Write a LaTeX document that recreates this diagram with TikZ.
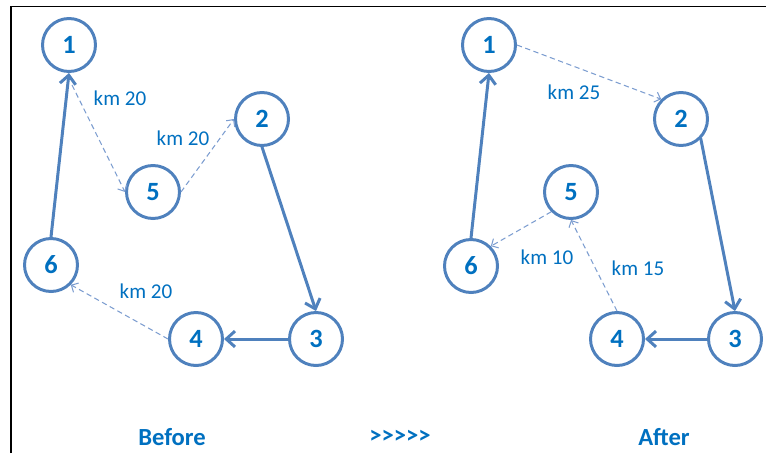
\documentclass[tikz,border=0pt]{standalone}
\usepackage{fontspec}
\setmainfont{Carlito}
\usetikzlibrary{arrows.meta}
\definecolor{ring}{HTML}{4F81BD}
\definecolor{ink}{HTML}{0070C0}
\definecolor{dimline}{HTML}{7C9DD0}

\begin{document}
\begin{tikzpicture}[
    x=0.02cm, y=-0.02cm,
    town/.style={circle, draw=ring, line width=1.7pt, minimum size=1.06cm, inner sep=0pt,
        text=ink, font=\fontsize{15}{18}\selectfont\bfseries},
    road/.style={draw=ring, line width=1.7pt, line cap=round,
        -{Straight Barb[length=5pt, width=9pt]}},
    detour/.style={draw=dimline, line width=0.6pt, dash pattern=on 3pt off 2pt,
        -{Straight Barb[length=3pt, width=6pt]}},
    lab/.style={text=ink, font=\fontsize{12}{14}\selectfont},
    tag/.style={text=ink, font=\fontsize{14}{17}\selectfont\bfseries},
]

\useasboundingbox (0,0) rectangle (766,453);

% frame
\draw[line width=1pt] (11,453) -- (11,6.5) -- (766,6.5);

% before
\node[town] (b1) at (69,45)   {1};
\node[town] (b2) at (262,119) {2};
\node[town] (b3) at (316,339) {3};
\node[town] (b4) at (196,339) {4};
\node[town] (b5) at (153,192) {5};
\node[town] (b6) at (51,265)  {6};

\draw[road] (b6.north) -- (b1.south);
\draw[road] (b2.south) -- (b3.north);
\draw[road] (b3.west) -- (b4.east);
\draw[detour] (b1.south) ++(3,12) coordinate (b1s) -- (b5.west);
\draw[detour] (b5.east) -- (b2.west);
\draw[detour] (b4.west) -- (b6.south east);

\node[lab] (bk15) at (120,98)  {km 20};
\node[lab] (bk52) at (183,138) {km 20};
\node[lab] (bk46) at (146,291) {km 20};

% after
\node[town] (a1) at (489,45)  {1};
\node[town] (a2) at (681,119) {2};
\node[town] (a3) at (735,339) {3};
\node[town] (a4) at (617,339) {4};
\node[town] (a5) at (571,192) {5};
\node[town] (a6) at (471,266) {6};

\draw[road] (a6.north) -- (a1.south);
\draw[road] (a2.south east) -- (a3.north);
\draw[road] (a3.west) -- (a4.east);
\draw[detour] (a1.east) -- (a2.north west);
\draw[detour] (a4.north) -- (a5.south);
\draw[detour] (a5.south west) -- (a6.north east);

\node[lab] (ak12) at (574,92)  {km 25};
\node[lab] (ak56) at (547,257) {km 10};
\node[lab] (ak45) at (638,268) {km 15};

% captions
\node[tag] (before) at (172,437) {Before};
\node[tag] (then)   at (400,437) {>\kern0pt>\kern0pt>\kern0pt>\kern0pt>};
\node[tag] (after)  at (664,437) {After};

\end{tikzpicture}
\end{document}
